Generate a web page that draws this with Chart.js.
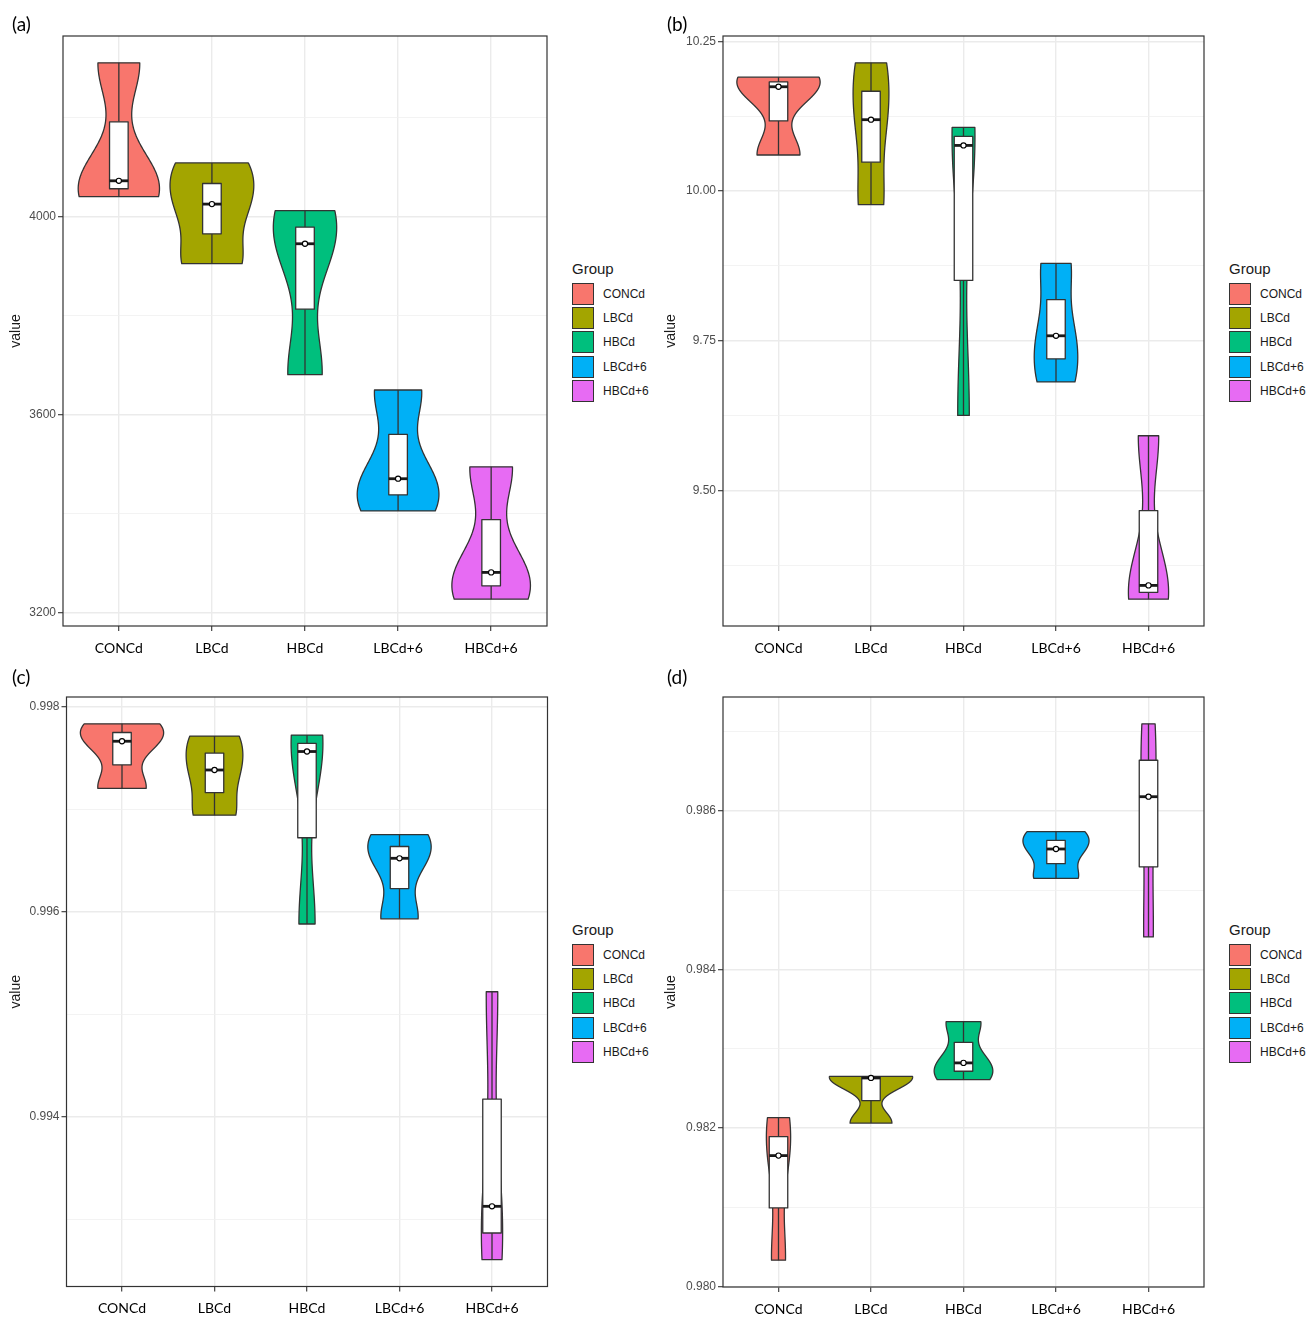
<!DOCTYPE html>
<html>
<head>
<meta charset="utf-8">
<title>Violin plots by group</title>
<script src="https://cdn.jsdelivr.net/npm/chart.js@4.4.1/dist/chart.umd.min.js"></script>
<style>
  html, body { margin: 0; padding: 0; background: #ffffff; }
  body { width: 1309px; height: 1318px; position: relative; overflow: hidden;
         font-family: "Liberation Sans", Arial, sans-serif; }
  .panel { position: absolute; }
  .tag { position: absolute; font-family: Lato, "Open Sans", sans-serif; font-size: 19px;
         line-height: 19px; color: #000; }
  .legend { position: absolute; color: #1a1a1a; font-family: "Liberation Sans", Arial, sans-serif; }
  .legend .title { position: absolute; left: 0; top: 0; font-size: 15px; line-height: 15px; white-space: nowrap; }
  .legend .key { position: absolute; left: 0; width: 22px; height: 22px; box-sizing: border-box;
                 border: 1px solid #333333; }
  .legend .lab { position: absolute; left: 31px; font-size: 12px; line-height: 22px; white-space: nowrap; }
</style>
</head>
<body>
<script>
// Groups and their fill colours
const groups = ['CONCd', 'LBCd', 'HBCd', 'LBCd+6', 'HBCd+6'];
const groupColors = ['#F8766D', '#A3A500', '#00BF7D', '#00B0F6', '#E76BF3'];

// Three replicate measurements per group, one array per panel
const valuesA = [
  [4040, 4072, 4310],
  [3905, 4025, 4108],
  [3681, 3945, 4012],
  [3406, 3471, 3650],
  [3228, 3282, 3495]
];
const valuesB = [
  [10.060, 10.174, 10.190],
  [9.977, 10.119, 10.214],
  [9.625, 10.076, 10.106],
  [9.681, 9.758, 9.879],
  [9.318, 9.341, 9.591]
];
const valuesC = [
  [0.99720, 0.99766, 0.99783],
  [0.99694, 0.99738, 0.99771],
  [0.99588, 0.99756, 0.99772],
  [0.99593, 0.99652, 0.99675],
  [0.99261, 0.99313, 0.99522]
];
const valuesD = [
  [0.98033, 0.98165, 0.98213],
  [0.98206, 0.98263, 0.98265],
  [0.98261, 0.98282, 0.98334],
  [0.98515, 0.98552, 0.98574],
  [0.98441, 0.98618, 0.98710]
];

// Labelled (major) and unlabelled (minor) y breaks
const majorTicksA = [3200, 3600, 4000];
const minorTicksA = [3400, 3800, 4200];
const majorTicksB = [9.50, 9.75, 10.00, 10.25];
const minorTicksB = [9.375, 9.625, 9.875, 10.125];
const majorTicksC = [0.994, 0.996, 0.998];
const minorTicksC = [0.993, 0.995, 0.997];
const majorTicksD = [0.980, 0.982, 0.984, 0.986];
const minorTicksD = [0.981, 0.983, 0.985, 0.987];

// ---- summary statistics ----
function sortedCopy(v) { return v.slice().sort((a, b) => a - b); }
function quantile7(s, p) {
  const h = (s.length - 1) * p, lo = Math.floor(h);
  const hi = Math.min(lo + 1, s.length - 1);
  return s[lo] + (h - lo) * (s[hi] - s[lo]);
}
function bandwidthNrd0(v) {
  const n = v.length;
  const m = v.reduce((a, b) => a + b, 0) / n;
  const sd = Math.sqrt(v.reduce((a, b) => a + (b - m) * (b - m), 0) / (n - 1));
  const s = sortedCopy(v);
  const iqr = quantile7(s, 0.75) - quantile7(s, 0.25);
  let lo = Math.min(sd, iqr / 1.34);
  if (!lo) lo = sd || Math.abs(v[0]) || 1;
  return 0.9 * lo * Math.pow(n, -0.2);
}
// Gaussian kernel density, trimmed to the data range
function densityCurve(v, steps) {
  const s = sortedCopy(v), bw = bandwidthNrd0(v);
  const lo = s[0], hi = s[s.length - 1];
  const norm = 1 / (v.length * bw * Math.sqrt(2 * Math.PI));
  const pts = [];
  for (let k = 0; k < steps; k++) {
    const y = lo + (hi - lo) * k / (steps - 1);
    let d = 0;
    for (const xi of v) { const z = (y - xi) / bw; d += Math.exp(-0.5 * z * z); }
    pts.push({ v: y, d: d * norm });
  }
  return pts;
}
function groupStats(v) {
  const s = sortedCopy(v);
  return {
    min: s[0], max: s[s.length - 1],
    q1: quantile7(s, 0.25), med: quantile7(s, 0.5), q3: quantile7(s, 0.75),
    dens: densityCurve(v, 512)
  };
}

// ---- drawing of violins, boxes and the panel frame ----
const violinPlugin = {
  id: 'violins',
  beforeDatasetsDraw(chart, args, opts) {
    const { ctx } = chart;
    const xs = chart.scales.x, ys = chart.scales.y;
    const stats = opts.stats, peak = opts.peak;
    ctx.save();
    ctx.lineJoin = 'round';
    stats.forEach((s, i) => {
      const c = i + 1;
      ctx.beginPath();
      s.dens.forEach((p, k) => {
        const px = xs.getPixelForValue(c + 0.45 * p.d / peak);
        const py = ys.getPixelForValue(p.v);
        if (k === 0) ctx.moveTo(px, py); else ctx.lineTo(px, py);
      });
      for (let k = s.dens.length - 1; k >= 0; k--) {
        const p = s.dens[k];
        ctx.lineTo(xs.getPixelForValue(c - 0.45 * p.d / peak), ys.getPixelForValue(p.v));
      }
      ctx.closePath();
      ctx.fillStyle = groupColors[i];
      ctx.fill();
      ctx.lineWidth = 1.3;
      ctx.strokeStyle = '#333333';
      ctx.stroke();
    });
    stats.forEach((s, i) => {
      const c = i + 1;
      const xl = xs.getPixelForValue(c - 0.1), xr = xs.getPixelForValue(c + 0.1);
      const xc = xs.getPixelForValue(c);
      const yMin = ys.getPixelForValue(s.min), yMax = ys.getPixelForValue(s.max);
      const yQ1 = ys.getPixelForValue(s.q1), yQ3 = ys.getPixelForValue(s.q3);
      const yMed = ys.getPixelForValue(s.med);
      ctx.lineWidth = 1.3;
      ctx.strokeStyle = '#333333';
      ctx.beginPath();
      ctx.moveTo(xc, yMax); ctx.lineTo(xc, yQ3);
      ctx.moveTo(xc, yQ1); ctx.lineTo(xc, yMin);
      ctx.stroke();
      ctx.fillStyle = '#ffffff';
      ctx.fillRect(xl, yQ3, xr - xl, yQ1 - yQ3);
      ctx.strokeRect(xl, yQ3, xr - xl, yQ1 - yQ3);
      ctx.lineWidth = 2.8;
      ctx.strokeStyle = '#1a1a1a';
      ctx.beginPath();
      ctx.moveTo(xl, yMed); ctx.lineTo(xr, yMed);
      ctx.stroke();
    });
    ctx.restore();
  },
  afterDraw(chart) {
    const { ctx, chartArea: a } = chart;
    ctx.save();
    ctx.lineWidth = 1.2;
    ctx.strokeStyle = '#333333';
    ctx.strokeRect(a.left, a.top, a.right - a.left, a.bottom - a.top);
    ctx.restore();
  }
};

// Panel layout
const panelSpecs = [
  { tag: '(a)', values: valuesA, major: majorTicksA, minor: minorTicksA, digits: 0,
    left: 0, top: 0, axisWidth: 63, pad: { right: 13, top: 36, bottom: 2 } },
  { tag: '(b)', values: valuesB, major: majorTicksB, minor: minorTicksB, digits: 2,
    left: 655, top: 0, axisWidth: 68, pad: { right: 11, top: 36, bottom: 2 } },
  { tag: '(c)', values: valuesC, major: majorTicksC, minor: minorTicksC, digits: 3,
    left: 0, top: 660, axisWidth: 66.5, pad: { right: 12.5, top: 37, bottom: 1.5 } },
  { tag: '(d)', values: valuesD, major: majorTicksD, minor: minorTicksD, digits: 3,
    left: 655, top: 660, axisWidth: 68, pad: { right: 11, top: 37, bottom: 1 } }
];
const legendSpots = [[572, 261], [1229, 261], [572, 922], [1229, 922]];
const tagSpots = [[12, 14], [667, 14], [12, 667], [667, 667]];

function isIn(list, v) { return list.some(t => Math.abs(t - v) < 1e-9 * Math.max(1, Math.abs(t))); }

function buildPanel(spec, idx) {
  const holder = document.createElement('div');
  holder.className = 'panel';
  holder.style.left = spec.left + 'px';
  holder.style.top = spec.top + 'px';
  const canvas = document.createElement('canvas');
  canvas.width = 560; canvas.height = 658;
  canvas.style.width = '560px'; canvas.style.height = '658px';
  holder.appendChild(canvas);
  document.body.appendChild(holder);

  const stats = spec.values.map(groupStats);
  const peak = Math.max(...stats.map(s => Math.max(...s.dens.map(p => p.d))));
  const all = spec.values.flat();
  const lo = Math.min(...all), hi = Math.max(...all);
  const ext = (hi - lo) * 0.05;
  const yTicks = spec.major.concat(spec.minor).filter(v => v >= lo - ext && v <= hi + ext).sort((a, b) => a - b);

  new Chart(canvas, {
    type: 'scatter',
    data: {
      datasets: groups.map((g, i) => ({
        label: g,
        data: [{ x: i + 1, y: stats[i].med }],
        pointRadius: 2.6,
        pointHoverRadius: 2.6,
        pointBorderWidth: 1.1,
        pointBackgroundColor: '#ffffff',
        pointBorderColor: '#000000'
      }))
    },
    options: {
      responsive: false,
      animation: false,
      devicePixelRatio: 1,
      events: [],
      layout: { padding: { left: 0, right: spec.pad.right, top: spec.pad.top, bottom: spec.pad.bottom } },
      plugins: {
        legend: { display: false },
        tooltip: { enabled: false },
        violins: { stats, peak }
      },
      scales: {
        x: {
          type: 'linear',
          min: 0.4, max: 5.6,
          afterBuildTicks: s => { s.ticks = groups.map((g, i) => ({ value: i + 1 })); },
          afterFit: s => { s.height = 30; },
          border: { display: false },
          grid: { color: '#EBEBEB', lineWidth: 1.4, tickLength: 5, tickColor: '#333333', tickWidth: 1.1 },
          ticks: {
            autoSkip: false, maxRotation: 0, minRotation: 0, padding: 9,
            color: '#000000',
            font: { family: 'Lato', size: 14 },
            callback: v => groups[Math.round(v) - 1]
          }
        },
        y: {
          type: 'linear',
          min: lo - ext, max: hi + ext,
          afterBuildTicks: s => { s.ticks = yTicks.map(v => ({ value: v })); },
          afterFit: s => { s.width = spec.axisWidth; },
          border: { display: false },
          grid: {
            color: c => isIn(spec.major, c.tick.value) ? '#EBEBEB' : '#F0F0F0',
            lineWidth: c => isIn(spec.major, c.tick.value) ? 1.4 : 0.8,
            tickLength: 5,
            tickColor: c => isIn(spec.major, c.tick.value) ? '#333333' : 'rgba(0,0,0,0)',
            tickWidth: 1.1
          },
          ticks: {
            padding: 2,
            color: '#4D4D4D',
            font: { family: 'Liberation Sans', size: 12 },
            callback: v => isIn(spec.major, v) ? v.toFixed(spec.digits) : ''
          },
          title: {
            display: true, text: 'value', color: '#1a1a1a',
            font: { family: 'Liberation Sans', size: 14 },
            padding: { top: 8, bottom: 0 }
          }
        }
      }
    },
    plugins: [violinPlugin]
  });

  // panel tag
  const tag = document.createElement('div');
  tag.className = 'tag';
  tag.textContent = spec.tag;
  tag.style.left = tagSpots[idx][0] + 'px';
  tag.style.top = tagSpots[idx][1] + 'px';
  document.body.appendChild(tag);

  // legend
  const lg = document.createElement('div');
  lg.className = 'legend';
  lg.style.left = legendSpots[idx][0] + 'px';
  lg.style.top = legendSpots[idx][1] + 'px';
  const t = document.createElement('div');
  t.className = 'title';
  t.textContent = 'Group';
  lg.appendChild(t);
  groups.forEach((g, i) => {
    const k = document.createElement('div');
    k.className = 'key';
    k.style.top = (21.5 + 24.4 * i) + 'px';
    k.style.background = groupColors[i];
    lg.appendChild(k);
    const l = document.createElement('div');
    l.className = 'lab';
    l.style.top = (21.5 + 24.4 * i) + 'px';
    l.textContent = g;
    lg.appendChild(l);
  });
  document.body.appendChild(lg);
}

function drawAll() { panelSpecs.forEach(buildPanel); }
Promise.all([
  document.fonts.load('14px Lato'),
  document.fonts.load('12px "Liberation Sans"'),
  document.fonts.load('19px Lato')
]).then(drawAll, drawAll);
</script>
</body>
</html>
